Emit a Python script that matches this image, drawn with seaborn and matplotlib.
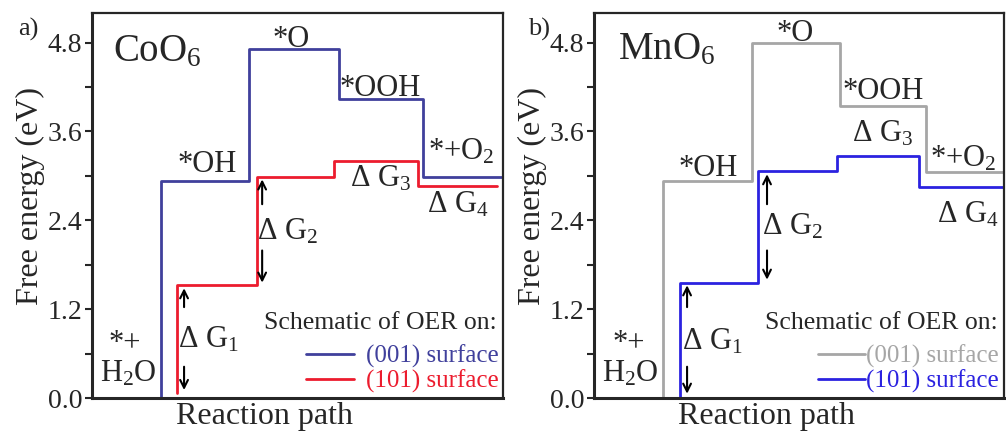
import numpy as np
import pandas as pd
import matplotlib
matplotlib.use("Agg")
import matplotlib.pyplot as plt
from matplotlib.ticker import MultipleLocator
import seaborn as sns

# ---- free-energy levels along the OER path (eV): *+H2O, *OH, *O, *OOH, *+O2
co_001 = [0.00, 2.93, 4.72, 4.04, 2.99]
co_101 = [0.07, 1.52, 2.99, 3.20, 2.86]
mn_001 = [0.00, 2.93, 4.80, 3.94, 3.05]
mn_101 = [0.00, 1.56, 3.06, 3.27, 2.85]

# step edges along the reaction path (arbitrary units, 0..10)
co_001_edges = [1.68, 3.82, 6.00, 8.05, 10.0]
co_101_edges = [2.07, 4.01, 5.89, 7.93, 9.85]
mn_001_edges = [1.68, 3.85, 6.00, 8.10, 10.0]
mn_101_edges = [2.10, 4.00, 5.93, 7.93, 10.0]

species = ["*+", "*OH", "*O", "*OOH", "*+O$\\mathregular{_2}$"]
surface_labels = ["(001) surface", "(101) surface"]
yticks = [0.0, 1.2, 2.4, 3.6, 4.8]

colors_a = ["#40409c", "#ec1c2e"]
colors_b = ["#a6a6a6", "#2b22e0"]

sns.set_style("ticks")
plt.rcParams["font.family"] = ["Liberation Serif", "DejaVu Serif"]
plt.rcParams["mathtext.fontset"] = "custom"
plt.rcParams["mathtext.rm"] = "Liberation Serif"


def step_frame(levels, edges):
    """Turn energy levels and step edges into an explicit step outline:
    level 0 sits at the first edge, level i spans edges[i-1]..edges[i]."""
    xs = [edges[0]]
    ys = [levels[0]]
    for i in range(1, len(levels)):
        xs += [edges[i - 1], edges[i]]
        ys += [levels[i], levels[i]]
    return pd.DataFrame({"x": xs, "y": ys})


fig = plt.figure(figsize=(10.06, 4.34), dpi=100)
ax_a = fig.add_axes([92 / 1006, 36 / 434, 411 / 1006, 385 / 434])
ax_b = fig.add_axes([594 / 1006, 36 / 434, 410 / 1006, 385 / 434])

panels = [
    dict(ax=ax_a, series=[(co_001, co_001_edges), (co_101, co_101_edges)],
         colors=colors_a, title="CoO$\\mathregular{_6}$", letter="a)", letter_x=18,
         lbl=dict(title=(0.51, 4.55), O=(4.40, 4.74), OH=(2.07, 3.05), OOH=(6.03, 4.08),
                  O2=(8.18, 3.22), G3=(6.28, 2.86), G4=(8.15, 2.51), G2=(4.01, 2.14),
                  G1=(2.09, 0.68), H2O=(0.20, 0.22), star=(0.39, 0.65)),
         arr1=2.24, arr2=4.14, lo1=co_101[0], hi1=co_101[1], hi2=co_101[2],
         leg_x=0.99, title_x=0.985, textpad=0.5),
    dict(ax=ax_b, series=[(mn_001, mn_001_edges), (mn_101, mn_101_edges)],
         colors=colors_b, title="MnO$\\mathregular{_6}$", letter="b)", letter_x=528,
         lbl=dict(title=(0.59, 4.58), O=(4.46, 4.82), OH=(2.05, 3.00), OOH=(6.05, 4.04),
                  O2=(8.20, 3.13), G3=(6.29, 3.47), G4=(8.37, 2.37), G2=(4.10, 2.21),
                  G1=(2.15, 0.65), H2O=(0.20, 0.22), star=(0.44, 0.65)),
         arr1=2.27, arr2=4.22, lo1=mn_101[0], hi1=mn_101[1], hi2=mn_101[2],
         leg_x=0.988, title_x=0.985, textpad=0.05),
]

for p in panels:
    ax = p["ax"]
    for (levels, edges), col, lab in zip(p["series"], p["colors"], surface_labels):
        df = step_frame(levels, edges)
        sns.lineplot(data=df, x="x", y="y", estimator=None, sort=False,
                     color=col, linewidth=2.0, ax=ax, label=lab)

    ax.set_xlim(0, 10)
    ax.set_ylim(0, 5.2)
    ax.set_xticks([])
    ax.set_yticks(yticks)
    ax.set_yticklabels([f"{t:.1f}" for t in yticks])
    ax.yaxis.set_minor_locator(MultipleLocator(0.6))
    ax.tick_params(axis="y", which="both", direction="out", length=5, width=1.5,
                   labelsize=20, pad=2)
    for side in ["left", "bottom"]:
        ax.spines[side].set_linewidth(2.2)
    for side in ["top", "right"]:
        ax.spines[side].set_linewidth(1.6)
        ax.spines[side].set_visible(True)

    ax.set_ylabel("Free energy (eV)", fontsize=23)
    ax.yaxis.set_label_coords(-0.114, 0.525)
    ax.set_xlabel("Reaction path", fontsize=23)
    ax.xaxis.set_label_coords(0.42, -0.01)

    L = p["lbl"]
    fs = 22
    ax.text(*L["title"], p["title"], fontsize=28, ha="left", va="baseline")
    ax.text(*L["O"], species[2], fontsize=fs, ha="left", va="baseline")
    ax.text(*L["OH"], species[1], fontsize=fs, ha="left", va="baseline")
    ax.text(*L["OOH"], species[3], fontsize=fs, ha="left", va="baseline")
    ax.text(*L["O2"], species[4], fontsize=fs, ha="left", va="baseline")
    ax.text(*L["star"], species[0], fontsize=fs, ha="left", va="baseline")
    ax.text(*L["H2O"], "H$\\mathregular{_2}$O", fontsize=fs, ha="left", va="baseline")
    for k, n in [("G1", 1), ("G2", 2), ("G3", 3), ("G4", 4)]:
        ax.text(*L[k], "Δ G$\\mathregular{_%d}$" % n, fontsize=fs, ha="left", va="baseline")

    # double arrows spanning the first two steps of the (101) path
    aprops = dict(arrowstyle="->", color="black", lw=1.5, mutation_scale=14)
    lo1, hi1, hi2 = p["lo1"], p["hi1"], p["hi2"]
    ax.annotate("", xy=(p["arr1"], hi1), xytext=(p["arr1"], 1.19), arrowprops=aprops)
    ax.annotate("", xy=(p["arr1"], max(lo1, 0.02)), xytext=(p["arr1"], 0.46), arrowprops=aprops)
    ax.annotate("", xy=(p["arr2"], hi2), xytext=(p["arr2"], 2.58), arrowprops=aprops)
    ax.annotate("", xy=(p["arr2"], hi1), xytext=(p["arr2"], 2.03), arrowprops=aprops)

    leg = ax.legend(loc="lower right", bbox_to_anchor=(p["leg_x"], 0.012), frameon=False,
                    fontsize=18, handlelength=1.9, handletextpad=p["textpad"],
                    labelspacing=0.08, borderpad=0.0, borderaxespad=0.0)
    for txt, col in zip(leg.get_texts(), p["colors"]):
        txt.set_color(col)
    ax.text(p["title_x"], 0.195, "Schematic of OER on:", fontsize=18.5,
            ha="right", va="center", transform=ax.transAxes)

    fig.text(p["letter_x"] / 1006, 1 - 36 / 434, p["letter"], fontsize=19,
             ha="left", va="baseline")

fig.savefig("out.png", dpi=100)
